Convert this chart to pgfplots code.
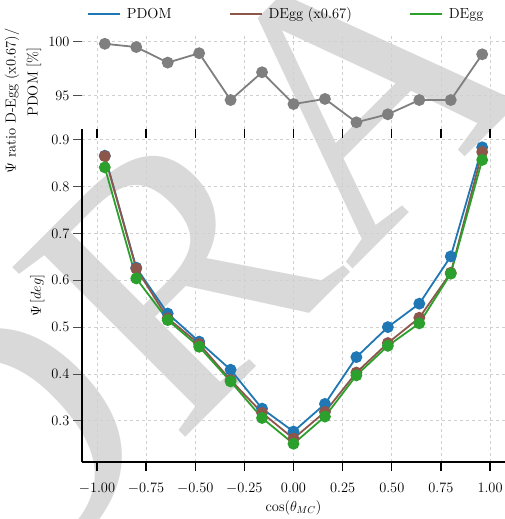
\documentclass[border=0pt]{standalone}
\usepackage{fontspec}
\usepackage{pgfplots}
\pgfplotsset{compat=1.18}
\newfontfamily\wmfont{Liberation Serif}
\definecolor{cblue}{HTML}{1F77B4}
\definecolor{cbrown}{HTML}{8C564B}
\definecolor{cgreen}{HTML}{2CA02C}
\definecolor{cgray}{HTML}{7F7F7F}
\definecolor{wm}{HTML}{D9D9D9}
\definecolor{gridc}{HTML}{D0D0D0}

\pgfplotstableread{
x pdom degg67 degg ratio
-0.96 0.866 0.865 0.841 99.8
-0.80 0.627 0.625 0.604 99.5
-0.64 0.529 0.519 0.515 98.06
-0.48 0.469 0.464 0.458 98.93
-0.32 0.409 0.387 0.384 94.6
-0.16 0.326 0.317 0.306 97.17
0.00 0.277 0.262 0.251 94.23
0.16 0.336 0.319 0.309 94.7
0.32 0.436 0.403 0.397 92.54
0.48 0.500 0.466 0.460 93.28
0.64 0.550 0.520 0.508 94.6
0.80 0.651 0.616 0.614 94.6
0.96 0.884 0.874 0.857 98.83
}\datatable

\begin{document}
\begin{tikzpicture}
\pgfplotsset{
  every axis/.append style={font=\fontsize{14.5}{17}\selectfont},
  grid style={dashed, gridc, line width=0.8pt},
}
% watermark
\node[rotate=45, text=wm, font=\wmfont\fontsize{370}{370}\selectfont, anchor=center] at (330pt,-120pt) {DRAFT};

% main axis
\begin{axis}[
  at={(82pt,-462pt)}, anchor=south west,
  scale only axis, width=423pt, height=333pt,
  xmin=-1.076, xmax=1.076, ymin=0.212, ymax=0.923,
  axis x line*=bottom, axis y line*=left,
  axis line style={line width=2.5pt, black},
  xtick={-1,-0.75,-0.5,-0.25,0,0.25,0.5,0.75,1},
  ytick={0.3,0.4,0.5,0.6,0.7,0.8,0.9},
  xticklabel style={yshift=-9pt, /pgf/number format/.cd, fixed, fixed zerofill, precision=2},
  yticklabel style={/pgf/number format/.cd, fixed, fixed zerofill, precision=1},
  tick align=outside, major tick length=9pt,
  x tick style={black, line width=1.2pt},
  y tick style={black!70, line width=0.8pt},
  grid=major,
  xlabel={$\cos(\theta_{MC})$},
  ylabel={$\Psi\,[deg]$},
  legend columns=3,
  legend style={at={(axis description cs:0.0118,1.345)}, anchor=west, draw=none, fill=none,
    inner sep=0pt, outer sep=0pt,
    /tikz/every odd column/.append style={column sep=4pt},
    /tikz/every even column/.append style={column sep=55pt}},
  legend cell align=left,
  legend image code/.code={\draw[#1, line width=2pt] (0pt,0pt) -- (32pt,0pt);},
  every axis plot/.append style={line width=1.8pt, mark=*, mark size=5pt},
]
\addplot[cblue, mark options={fill=cblue, draw=cblue}] table[x=x, y=pdom] {\datatable};
\addlegendentry{PDOM}
\addplot[cbrown, mark options={fill=cbrown, draw=cbrown}] table[x=x, y=degg67] {\datatable};
\addlegendentry{DEgg (x0.67)}
\addplot[cgreen, mark options={fill=cgreen, draw=cgreen}] table[x=x, y=degg] {\datatable};
\addlegendentry{DEgg}
\end{axis}

% ratio axis
\begin{axis}[
  at={(82pt,-129pt)}, anchor=south west,
  scale only axis, width=423pt, height=96pt,
  xmin=-1.076, xmax=1.076, ymin=91.92, ymax=100.8,
  axis line style={draw=none},
  xtick={-1,-0.75,-0.5,-0.25,0,0.25,0.5,0.75,1},
  xticklabels={},
  ytick={95,100},
  xtick pos=bottom, ytick pos=left,
  tick align=outside, major tick length=9pt,
  x tick style={black, line width=1.2pt},
  y tick style={black!70, line width=0.8pt},
  grid=major,
]
\addplot[cgray, line width=1.8pt, mark=*, mark size=5pt, mark options={fill=cgray, draw=cgray}] table[x=x, y=ratio] {\datatable};
\end{axis}

\node[rotate=90, font=\fontsize{14.5}{17}\selectfont] at (12pt,-101pt) {$\Psi$ ratio D-Egg (x0.67)/};
\node[rotate=90, font=\fontsize{14.5}{17}\selectfont] at (34pt,-82pt) {PDOM [\%]};

\pgfresetboundingbox
\useasboundingbox (0pt,0pt) rectangle (505pt,-519pt);
\end{tikzpicture}
\end{document}
